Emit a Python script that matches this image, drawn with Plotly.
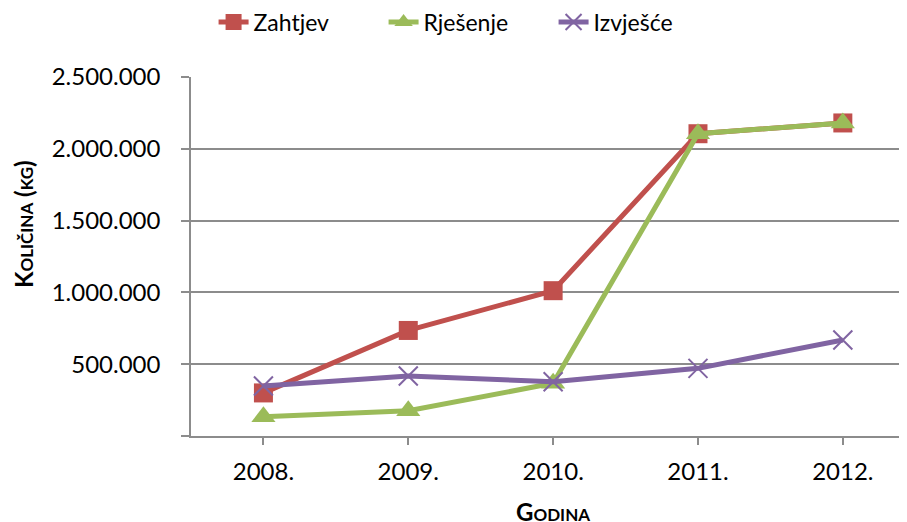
import plotly.graph_objects as go

years = ["2008.", "2009.", "2010.", "2011.", "2012."]
zahtjev = [300000, 735000, 1012000, 2105000, 2180000]
rjesenje = [134000, 176000, 367000, 2105000, 2180000]
izvjesce = [348000, 418000, 378000, 471000, 669000]

y_tick_values = [0, 500000, 1000000, 1500000, 2000000, 2500000]
y_tick_labels = ["", "500.000", "1.000.000", "1.500.000", "2.000.000", "2.500.000"]

FONT = "Lato, Carlito, Calibri, sans-serif"
RED = "#C0504D"
GREEN = "#9BBB59"
PURPLE = "#8064A2"
GRID = "#8C8C8C"

fig = go.Figure()
fig.add_trace(go.Scatter(
    x=years, y=zahtjev, name="Zahtjev", mode="lines+markers",
    line=dict(color=RED, width=5),
    marker=dict(symbol="square", size=19, color=RED),
))
fig.add_trace(go.Scatter(
    x=years, y=rjesenje, name="Rješenje", mode="lines+markers",
    line=dict(color=GREEN, width=5),
    marker=dict(symbol="triangle-up", size=21, color=GREEN),
))
fig.add_trace(go.Scatter(
    x=years, y=izvjesce, name="Izvješće", mode="lines+markers",
    line=dict(color=PURPLE, width=5),
    marker=dict(symbol="x-thin", size=19, color=PURPLE,
                line=dict(color=PURPLE, width=2)),
))

fig.update_layout(
    width=907, height=522,
    paper_bgcolor="white", plot_bgcolor="white",
    margin=dict(l=183, r=8, t=69, b=94, autoexpand=False),
    font=dict(family=FONT, size=24, color="#000000"),
    showlegend=True,
    legend=dict(
        orientation="h", xref="container", yref="container",
        x=0.5078, xanchor="center", y=0.973, yanchor="middle",
        font=dict(family=FONT, size=23, color="#000000"),
        entrywidth=125, entrywidthmode="pixels", tracegroupgap=0,
    ),
    xaxis=dict(
        type="category", range=[-0.5, 4.443],
        showgrid=False, showline=True, linecolor=GRID, linewidth=1.5,
        ticks="outside", ticklen=7, tickcolor=GRID, tickwidth=1.5,
        tickfont=dict(family=FONT, size=24, color="#000000"),
        ticklabelstandoff=6,
    ),
    yaxis=dict(
        range=[0, 2500000], tickvals=y_tick_values, ticktext=y_tick_labels,
        showgrid=True, gridcolor=GRID, gridwidth=1.5,
        showline=True, linecolor=GRID, linewidth=1.5,
        ticks="outside", ticklen=8, tickcolor=GRID, tickwidth=1.5,
        tickfont=dict(family=FONT, size=24, color="#000000"),
        ticklabelstandoff=16, zeroline=False,
    ),
    annotations=[
        dict(text="<b>Količina (kg)</b>", xref="paper", yref="paper",
             x=-0.2346, y=0.5905, textangle=-90, showarrow=False,
             xanchor="center", yanchor="middle",
             font=dict(family=FONT, size=24, color="#000000", variant="small-caps")),
        dict(text="<b>Godina</b>", xref="paper", yref="paper",
             x=0.5056, y=-0.209, showarrow=False,
             xanchor="center", yanchor="middle",
             font=dict(family=FONT, size=24, color="#000000", variant="small-caps")),
    ],
)

fig.write_html("out.html")
